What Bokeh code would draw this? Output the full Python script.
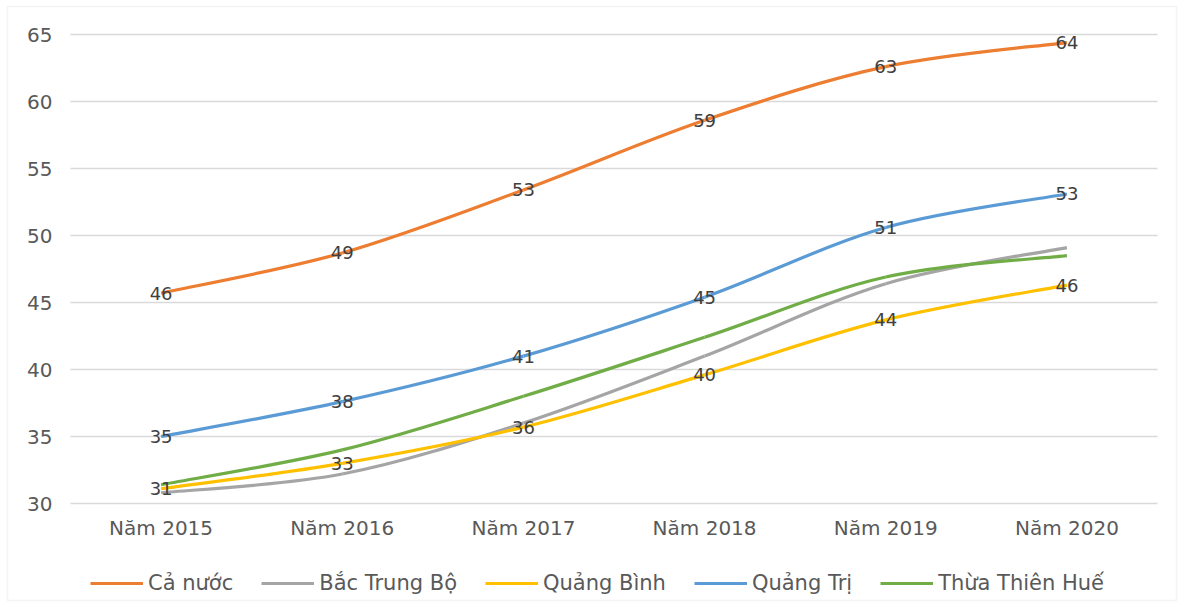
from bokeh.plotting import figure
from bokeh.models import (Range1d, Legend, LegendItem, ColumnDataSource, LabelSet,
                          BoxAnnotation)
from bokeh.core.properties import value
from bokeh.embed import file_html
from bokeh.resources import INLINE

years = ["Năm 2015", "Năm 2016", "Năm 2017", "Năm 2018", "Năm 2019", "Năm 2020"]

ca_nuoc = [45.7, 48.7, 53.4, 58.6, 62.6, 64.4]
bac_trung_bo = [30.8, 32.2, 36.0, 41.0, 46.4, 49.1]
quang_binh = [31.1, 33.0, 35.7, 39.6, 43.7, 46.3]
quang_tri = [35.0, 37.6, 41.0, 45.4, 50.6, 53.1]
thua_thien_hue = [31.4, 34.0, 38.0, 42.4, 46.9, 48.5]

series_names = ["Cả nước", "Bắc Trung Bộ", "Quảng Bình", "Quảng Trị", "Thừa Thiên Huế"]
series_values = [ca_nuoc, bac_trung_bo, quang_binh, quang_tri, thua_thien_hue]
series_colors = ["#ED7D31", "#A5A5A5", "#FFC000", "#5B9BD5", "#70AD47"]
labelled = [True, False, True, True, False]

y_ticks = [30, 35, 40, 45, 50, 55, 60, 65]

FONT = "DejaVu Sans"
TEXT = "#595959"
GRID = "#D9D9D9"

# The frame covers the whole canvas; the plotting area proper runs from
# x=70 to x=1157 and from y=34 (top tick) to y=503 (bottom tick).
W, H = 1183, 607
LEFT, RIGHT, TOP, BOTTOM = 70, 1157, 34, 503
n = len(years)
px_x = (RIGHT - LEFT) / n
px_y = (BOTTOM - TOP) / (y_ticks[-1] - y_ticks[0])
x_range = Range1d(-0.5 - LEFT / px_x, n - 0.5 + (W - RIGHT) / px_x)
y_range = Range1d(y_ticks[0] - (H - BOTTOM) / px_y, y_ticks[-1] + TOP / px_y)

p = figure(width=W, height=H, output_backend="svg", toolbar_location=None,
           x_range=x_range, y_range=y_range, min_border=0,
           min_border_left=0, min_border_right=0, min_border_top=0,
           min_border_bottom=0)
p.outline_line_color = None
p.background_fill_color = "white"
p.border_fill_color = "white"
p.grid.visible = False
p.axis.visible = False

xs = list(range(n))

# light frame around the chart
p.add_layout(BoxAnnotation(left=7, right=W - 7, top=7, bottom=H - 6,
                           left_units="screen", right_units="screen",
                           top_units="screen", bottom_units="screen",
                           fill_alpha=0, line_color=GRID, line_width=1.5))

# horizontal grid lines at each value tick
p.segment(x0=[-0.5] * len(y_ticks), x1=[n - 0.5] * len(y_ticks), y0=y_ticks,
          y1=y_ticks, line_color=GRID, line_width=1.5)

# value tick labels
ytick_src = ColumnDataSource(dict(x=[-0.5] * len(y_ticks), y=y_ticks,
                                  t=[str(v) for v in y_ticks]))
p.add_layout(LabelSet(x="x", y="y", text="t", source=ytick_src, x_offset=-18,
                      text_align="right", text_baseline="middle",
                      text_font=value(FONT), text_font_size=value("20px"),
                      text_color=TEXT))

# category labels under the lowest grid line
cat_src = ColumnDataSource(dict(x=xs, y=[y_ticks[0]] * n, t=years))
p.add_layout(LabelSet(x="x", y="y", text="t", source=cat_src, y_offset=-24,
                      text_align="center", text_baseline="middle",
                      text_font=value(FONT), text_font_size=value("20px"),
                      text_color=TEXT))


def smooth_segments(xs, ys, k=1.0 / 6.0):
    """Cardinal-spline control points for a smoothed line through (xs, ys)."""
    m = len(xs)
    seg = dict(x0=[], y0=[], x1=[], y1=[], cx0=[], cy0=[], cx1=[], cy1=[])
    for i in range(m - 1):
        xp, yp = (xs[i - 1], ys[i - 1]) if i > 0 else (xs[i], ys[i])
        xn, yn = (xs[i + 2], ys[i + 2]) if i + 2 < m else (xs[i + 1], ys[i + 1])
        seg["x0"].append(xs[i]); seg["y0"].append(ys[i])
        seg["x1"].append(xs[i + 1]); seg["y1"].append(ys[i + 1])
        seg["cx0"].append(xs[i] + (xs[i + 1] - xp) * k)
        seg["cy0"].append(ys[i] + (ys[i + 1] - yp) * k)
        seg["cx1"].append(xs[i + 1] - (xn - xs[i]) * k)
        seg["cy1"].append(ys[i + 1] - (yn - ys[i]) * k)
    return seg


items = []
for name, vals, color in zip(series_names, series_values, series_colors):
    r = p.bezier(x0="x0", y0="y0", x1="x1", y1="y1", cx0="cx0", cy0="cy0",
                 cx1="cx1", cy1="cy1", source=ColumnDataSource(smooth_segments(xs, vals)),
                 line_color=color, line_width=3.2)
    items.append(LegendItem(label=name, renderers=[r]))

for vals, lab in zip(series_values, labelled):
    if not lab:
        continue
    src = ColumnDataSource(dict(x=xs, y=vals, t=[str(round(v)) for v in vals]))
    p.add_layout(LabelSet(x="x", y="y", text="t", source=src, text_align="center",
                          text_baseline="middle", text_font=value(FONT),
                          text_font_size=value("18px"), text_color="#404040"))

# legend row along the bottom of the chart
legend = Legend(items=items, orientation="horizontal", location=(90, 12),
                glyph_width=53, glyph_height=20, label_standoff=5, spacing=28,
                padding=5, margin=0, border_line_color=None,
                label_text_font=FONT, label_text_font_size="21px",
                label_text_color=TEXT, background_fill_alpha=0)
p.add_layout(legend, "center")

open("out.html", "w").write(file_html(p, INLINE))
